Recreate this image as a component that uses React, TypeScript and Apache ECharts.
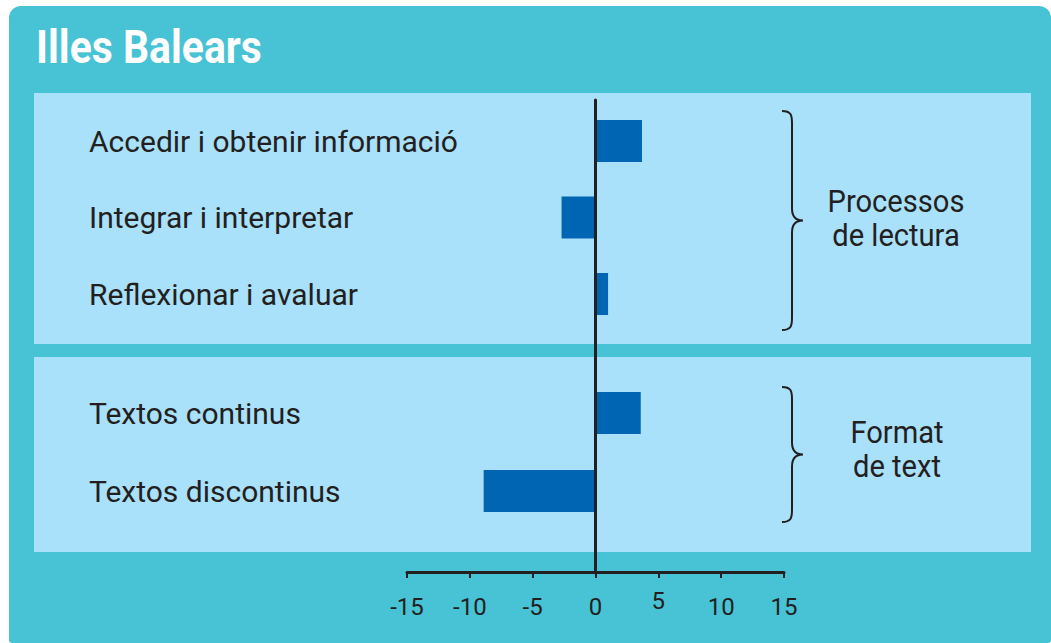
import React, { useEffect, useRef } from "react";
import * as echarts from "echarts";

const title = "Illes Balears";
const processCategories = ["Accedir i obtenir informació", "Integrar i interpretar", "Reflexionar i avaluar"];
const processValues = [3.7, -2.7, 1.0];
const formatCategories = ["Textos continus", "Textos discontinus"];
const formatValues = [3.6, -8.9];
const groupLabels = ["Processos\nde lectura", "Format\nde text"];
const axisMin = -15;
const axisMax = 15;
const axisStep = 5;

const FONT = "Roboto, 'Liberation Sans', sans-serif";
const DARK = "#231F20";
const BAR = "#0066B3";
const TEAL = "#48C3D5";
const PANEL = "#A9E0FA";

function bracePath(top: number, bottom: number): string {
  const xl = 782, xv = 792, xt = 803;
  const mid = (top + bottom) / 2;
  return [
    `M${xl},${top}`,
    `C${xv - 1},${top} ${xv},${top + 4} ${xv},${top + 12}`,
    `L${xv},${mid - 12}`,
    `C${xv},${mid - 4} ${xv + 3},${mid} ${xt},${mid}`,
    `C${xv + 3},${mid} ${xv},${mid + 4} ${xv},${mid + 12}`,
    `L${xv},${bottom - 12}`,
    `C${xv},${bottom - 4} ${xv - 1},${bottom} ${xl},${bottom}`,
  ].join(" ");
}

let registered = false;
function registerShapes() {
  if (registered) return;
  registered = true;
  echarts.graphic.registerShape("brace1", echarts.graphic.extendPath(bracePath(111, 330), {}));
  echarts.graphic.registerShape("brace2", echarts.graphic.extendPath(bracePath(387, 522), {}));
}

export default function App() {
  const ref = useRef<HTMLDivElement>(null);
  useEffect(() => {
    if (!ref.current) return;
    registerShapes();
    const chart = echarts.init(ref.current, null, { renderer: "svg" });
    const hiddenX = (gridIndex: number) => ({
      type: "value",
      gridIndex,
      min: axisMin,
      max: axisMax,
      interval: axisStep,
      show: false,
      splitLine: { show: false },
    });
    const catY = (gridIndex: number, data: string[]) => ({
      type: "category",
      gridIndex,
      data,
      inverse: true,
      axisLine: { show: false },
      axisTick: { show: false },
      axisLabel: {
        margin: 318,
        align: "left",
        color: DARK,
        fontFamily: FONT,
        fontSize: 30,
      },
    });
    const groupText = (x: number, y: number, text: string) => ({
      type: "text",
      x,
      y,
      scaleX: 0.91,
      style: { text, fill: DARK, font: `32px ${FONT}`, lineHeight: 34, align: "center", verticalAlign: "middle" },
    });
    const option: any = {
      animation: false,
      backgroundColor: "#ffffff",
      graphic: [
        { type: "rect", z: -10, shape: { x: 9, y: 6, width: 1042, height: 637, r: [12, 12, 3, 3] }, style: { fill: TEAL } },
        { type: "rect", z: -9, shape: { x: 34, y: 93, width: 997, height: 251 }, style: { fill: PANEL } },
        { type: "rect", z: -9, shape: { x: 34, y: 357, width: 997, height: 195 }, style: { fill: PANEL } },
        {
          type: "text",
          x: 36,
          y: 48,
          scaleX: 0.89,
          style: { text: title, fill: "#ffffff", font: `bold 46px ${FONT}`, verticalAlign: "middle", align: "left" },
        },
        { type: "brace1", x: 0, y: 0, style: { fill: null, stroke: DARK, lineWidth: 2 } },
        { type: "brace2", x: 0, y: 0, style: { fill: null, stroke: DARK, lineWidth: 2 } },
        groupText(896, 218, groupLabels[0]),
        groupText(897, 449, groupLabels[1]),
      ],
      grid: [
        { left: 407, width: 377, top: 100, height: 472 },
        { left: 407, width: 377, top: 102.75, height: 229.5 },
        { left: 407, width: 377, top: 374, height: 156 },
      ],
      xAxis: [
        {
          type: "value",
          gridIndex: 0,
          min: axisMin,
          max: axisMax,
          interval: axisStep,
          z: 10,
          splitLine: { show: false },
          axisLine: { show: true, onZero: false, lineStyle: { color: DARK, width: 3 } },
          axisTick: { show: true, length: 6, lineStyle: { color: DARK, width: 2 } },
          axisLabel: {
            margin: 23,
            color: DARK,
            fontFamily: FONT,
            fontSize: 24,
            formatter: (v: number) => (v === 5 ? `{up|${v}}` : `${v}`),
            rich: { up: { fontFamily: FONT, fontSize: 24, color: DARK, padding: [-6, 0, 0, 0] } },
          },
        },
        hiddenX(1),
        hiddenX(2),
      ],
      yAxis: [
        {
          type: "value",
          gridIndex: 0,
          min: 0,
          max: 1,
          z: 10,
          splitLine: { show: false },
          axisLabel: { show: false },
          axisTick: { show: false },
          axisLine: { show: true, onZero: true, lineStyle: { color: DARK, width: 3 } },
        },
        catY(1, processCategories),
        catY(2, formatCategories),
      ],
      series: [
        { type: "bar", xAxisIndex: 1, yAxisIndex: 1, data: processValues, barWidth: 42, itemStyle: { color: BAR }, z: 2 },
        { type: "bar", xAxisIndex: 2, yAxisIndex: 2, data: formatValues, barWidth: 42, itemStyle: { color: BAR }, z: 2 },
      ],
    };
    chart.setOption(option);
    return () => chart.dispose();
  }, []);
  return (
    <div
      ref={ref}
      style={{ position: "fixed", left: 0, top: 0, width: 1051, height: 643 }}
    />
  );
}
